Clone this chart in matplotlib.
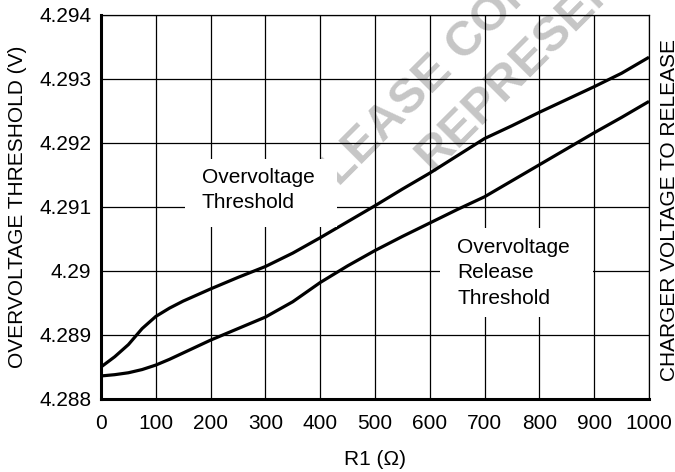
import matplotlib
matplotlib.use("Agg")
import matplotlib.pyplot as plt
from matplotlib.patches import Rectangle

plt.rcParams['font.family'] = ['Liberation Sans', 'DejaVu Sans']

# ---- data ----
r1 = [0, 25, 50, 75, 100, 125, 150, 200, 250, 300, 350, 400, 450, 500,
      550, 600, 650, 700, 750, 800, 850, 900, 950, 1000]
ov_threshold = [4.28850, 4.28866, 4.28885, 4.28910, 4.28929, 4.28942, 4.28953,
                4.28972, 4.28990, 4.29007, 4.29028, 4.29052, 4.29077, 4.29102,
                4.29128, 4.29153, 4.29180, 4.29207, 4.29227, 4.29248, 4.29268,
                4.29288, 4.29309, 4.29334]
ov_release = [4.28836, 4.28838, 4.28841, 4.28846, 4.28853, 4.28862, 4.28872,
              4.28892, 4.28910, 4.28928, 4.28952, 4.28982, 4.29008, 4.29032,
              4.29054, 4.29075, 4.29096, 4.29116, 4.29141, 4.29166, 4.29191,
              4.29216, 4.29240, 4.29265]
x_ticks = [0, 100, 200, 300, 400, 500, 600, 700, 800, 900, 1000]
y_ticks = [4.288, 4.289, 4.290, 4.291, 4.292, 4.293, 4.294]
y_tick_labels = ['4.288', '4.289', '4.29', '4.291', '4.292', '4.293', '4.294']

W, H = 675, 472
fig = plt.figure(figsize=(W / 100, H / 100), dpi=100)
L, R, T, B = 101, 649, 15, 399
ax = fig.add_axes([L / W, 1 - B / H, (R - L) / W, (B - T) / H])

ax.plot(r1, ov_threshold, color='black', lw=2.3, zorder=2.5, solid_capstyle='butt')
ax.plot(r1, ov_release, color='black', lw=2.3, zorder=2.5, solid_capstyle='butt')

ax.set_xlim(0, 1000)
ax.set_ylim(4.288, 4.294)
ax.set_xticks(x_ticks)
ax.set_xticklabels([str(v) for v in x_ticks])
ax.set_yticks(y_ticks)
ax.set_yticklabels(y_tick_labels)
ax.tick_params(axis='both', length=0, labelsize=15, colors='black')
ax.tick_params(axis='x', pad=11)
ax.tick_params(axis='y', pad=7)
ax.grid(True, color='black', lw=0.9)

for s in ['top', 'right']:
    ax.spines[s].set_linewidth(0.9)
for s in ['left', 'bottom']:
    ax.spines[s].set_linewidth(2.2)

ax.set_xlabel('R1 (Ω)', fontsize=15, labelpad=12)
ax.set_ylabel('OVERVOLTAGE THRESHOLD (V)', fontsize=15, labelpad=9)

fig.text(669.5 / W, 1 - 210 / H, 'CHARGER VOLTAGE TO RELEASE', rotation=90,
         ha='center', va='center', fontsize=15)

def fx(px):
    return (px - L) / (R - L)

def fy(py):
    return (B - py) / (B - T)

# watermark
wm = dict(fontsize=35, fontweight='bold', color='#c6c6c6', rotation=45,
          rotation_mode='anchor', ha='left', va='baseline',
          transform=ax.transAxes, clip_on=False, zorder=1)
ax.text(fx(339), fy(187), 'LEASE CONFIDENTIAL', **wm)
ax.text(fx(433), fy(172), 'REPRESENTATIVE', **wm)

# label boxes
ax.add_patch(Rectangle((fx(185), fy(227)), fx(337) - fx(185), fy(159) - fy(227),
                       transform=ax.transAxes, facecolor='white', edgecolor='none',
                       zorder=3))
ax.add_patch(Rectangle((fx(440), fy(317)), fx(593) - fx(440), fy(228) - fy(317),
                       transform=ax.transAxes, facecolor='white', edgecolor='none',
                       zorder=3))
ax.text(fx(202), fy(168), 'Overvoltage\nThreshold', transform=ax.transAxes,
        ha='left', va='top', fontsize=15, linespacing=1.42, zorder=4)
ax.text(fx(457), fy(238), 'Overvoltage\nRelease\nThreshold', transform=ax.transAxes,
        ha='left', va='top', fontsize=15, linespacing=1.42, zorder=4)

fig.savefig('out.png', dpi=100)
